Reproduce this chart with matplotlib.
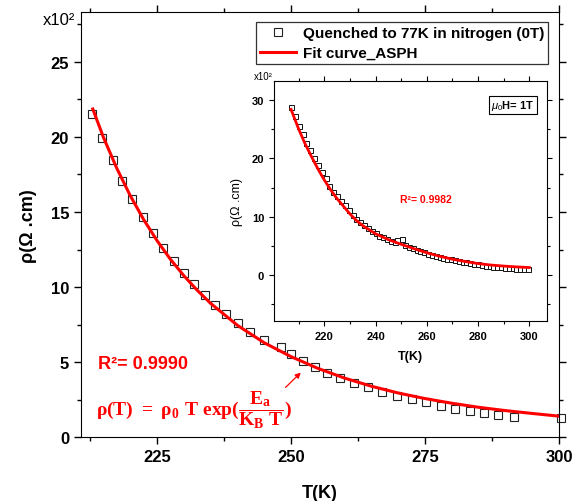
import numpy as np
import matplotlib.pyplot as plt
from matplotlib.ticker import MultipleLocator

plt.rcParams['font.family'] = ['Liberation Sans', 'DejaVu Sans']
plt.rcParams['mathtext.fontset'] = 'custom'
plt.rcParams['mathtext.rm'] = 'Liberation Sans'
plt.rcParams['mathtext.it'] = 'Liberation Sans:italic'
plt.rcParams['mathtext.bf'] = 'Liberation Serif:bold'

# main panel: quenched sample, 0T  (rho in units of 1e2 Ohm.cm)
T_main = [212.8, 214.7, 216.7, 218.5, 220.4, 222.3, 224.2, 226.1, 228.1, 230.0,
          231.9, 233.9, 235.8, 237.9, 240.1, 242.4, 244.9, 248.1, 250.0, 252.2,
          254.4, 256.7, 259.2, 261.7, 264.4, 267.0, 269.8, 272.5, 275.1, 277.9,
          280.6, 283.4, 286.1, 288.7, 291.6, 300.3]
rho_main = [21.53, 19.91, 18.45, 17.09, 15.85, 14.69, 13.62, 12.62, 11.73, 10.91,
            10.2, 9.5, 8.82, 8.2, 7.6, 7.05, 6.49, 6.02, 5.58, 5.09,
            4.69, 4.31, 3.95, 3.62, 3.35, 3.05, 2.75, 2.58, 2.33, 2.09,
            1.91, 1.75, 1.62, 1.49, 1.38, 1.31]

T_fit = [213, 215, 217.5, 220, 222.5, 225, 227.5, 230, 232.5, 235, 240, 245,
         250, 255, 260, 265, 270, 275, 280, 285, 290, 295, 300]
rho_fit = [21.85, 19.95, 17.89, 16.08, 14.49, 13.09, 11.85, 10.76, 9.79, 8.92,
           7.46, 6.3, 5.38, 4.6, 3.95, 3.41, 2.96, 2.59, 2.28, 2.01, 1.79, 1.6, 1.42]

# inset: 1T
T_in = [207.0, 208.5, 210.0, 211.5, 213.0, 214.5, 216.0, 217.5, 219.0, 220.5,
        222.0, 223.5, 225.0, 226.5, 228.0, 229.5, 231.0, 232.5, 234.0, 235.5,
        237.0, 238.5, 240.0, 241.5, 243.0, 244.5, 246.0, 247.5, 248.5, 250.3,
        251.5, 253.0, 254.5, 256.0, 257.5, 259.0, 260.5, 262.0, 263.5, 265.0,
        266.5, 268.0, 269.5, 271.0, 272.5, 274.0, 275.5, 277.0, 278.5, 280.0,
        281.5, 283.0, 284.5, 286.0, 287.5, 289.0, 290.5, 292.0, 293.5, 295.0,
        296.5, 298.0, 299.5]
rho_in = [28.8, 27.3, 25.6, 24.2, 22.7, 21.4, 20.1, 18.8, 17.6, 16.6,
          15.3, 14.3, 13.5, 12.7, 11.95, 11.1, 10.3, 9.65, 9.1, 8.6,
          8.1, 7.65, 7.2, 6.8, 6.5, 6.2, 5.9, 5.75, 6.1, 6.2,
          5.15, 4.85, 4.6, 4.35, 4.1, 3.9, 3.7, 3.5, 3.33, 3.15,
          3.0, 2.85, 2.7, 2.55, 2.43, 2.3, 2.2, 2.08, 1.97, 1.85,
          1.75, 1.65, 1.56, 1.47, 1.40, 1.33, 1.27, 1.21, 1.16, 1.12,
          1.08, 1.04, 1.0]

T_in_fit = [207, 210, 212.5, 215, 217.5, 220, 222.5, 225, 227.5, 230, 232.5, 235,
            240, 245, 250, 255, 260, 265, 270, 275, 280, 285, 290, 295, 300]
rho_in_fit = [28.4, 25.0, 22.5, 20.3, 18.2, 16.3, 14.6, 13.1, 11.8, 10.5, 9.4, 8.5,
              7.1, 6.1, 5.3, 4.55, 3.85, 3.25, 2.75, 2.35, 2.0, 1.75, 1.57, 1.43, 1.32]

fig = plt.figure(figsize=(5.73, 5.02), dpi=100)
ax = fig.add_axes([0.1414, 0.1265, 0.834, 0.8475])

ax.plot(T_main, rho_main, 's', ms=5.6, mfc='none', mec='#222222', mew=0.8,
        label='Quenched to 77K in nitrogen (0T)', clip_on=False, zorder=3)
ax.plot(T_fit, rho_fit, '-', color='red', lw=2.2, label='Fit curve_ASPH', zorder=4)

ax.set_xlim(210.8, 300)
ax.set_ylim(0, 28.3)
ax.xaxis.set_major_locator(MultipleLocator(25))
ax.xaxis.set_minor_locator(MultipleLocator(12.5))
ax.yaxis.set_major_locator(MultipleLocator(5))
ax.yaxis.set_minor_locator(MultipleLocator(2.5))
ax.tick_params(which='both', direction='out', top=True, right=True, width=1)
ax.tick_params(which='major', length=5, labelsize=12)
ax.tick_params(which='minor', length=3)
for lab in ax.get_xticklabels() + ax.get_yticklabels():
    lab.set_fontweight('bold')
ax.set_xlabel('T(K)', fontsize=13, fontweight='bold', labelpad=14)
ax.set_ylabel('ρ(Ω .cm)', fontsize=13, fontweight='bold', labelpad=10)
ax.text(-0.012, 1.0, 'x10²', transform=ax.transAxes, ha='right', va='top', fontsize=12)

leg = ax.legend(loc='upper left', bbox_to_anchor=(0.366, 0.976), fontsize=11,
                frameon=True, fancybox=False, borderpad=0.25, labelspacing=0.4,
                handlelength=2.4, handletextpad=0.4, borderaxespad=0)
leg.get_frame().set_edgecolor('black')
leg.get_frame().set_linewidth(0.9)
for t in leg.get_texts():
    t.set_fontweight('bold')

ax.text(213.9, 4.95, 'R²= 0.9990', color='red', fontsize=13, fontweight='bold',
        va='center')
ax.text(213.6, 1.85, r'$\mathbf{\rho(T)\ =\ \rho_0\ T\ exp(\dfrac{E_a}{K_B\ T})}$',
        color='red', fontsize=14, va='center')
ax.annotate('', xy=(252.2, 4.45), xytext=(248.6, 3.2),
            arrowprops=dict(arrowstyle='-|>', color='red', lw=0.9,
                            mutation_scale=8))

# inset
ins = fig.add_axes([0.478, 0.359, 0.476, 0.478])
ins.plot(T_in, rho_in, 's', ms=3.6, mfc='white', mec='#111111', mew=0.7, zorder=3)
ins.plot(T_in_fit, rho_in_fit, '-', color='red', lw=2.0, zorder=4)
ins.set_xlim(200.3, 306.8)
ins.set_ylim(-7.8, 33.3)
ins.xaxis.set_major_locator(MultipleLocator(20))
ins.xaxis.set_minor_locator(MultipleLocator(10))
ins.yaxis.set_major_locator(MultipleLocator(10))
ins.yaxis.set_minor_locator(MultipleLocator(5))
ins.tick_params(which='both', direction='out', top=True, right=True, width=0.8)
ins.tick_params(which='major', length=3.5, labelsize=8)
ins.tick_params(which='minor', length=2.5)
for lab in ins.get_xticklabels() + ins.get_yticklabels():
    lab.set_fontweight('bold')
ins.set_xlabel('T(K)', fontsize=9, fontweight='bold', labelpad=7)
ins.set_ylabel('ρ(Ω .cm)', fontsize=9, labelpad=6)
ins.text(-0.005, 1.0, 'x10²', transform=ins.transAxes, ha='right', va='bottom', fontsize=7)
ins.text(249.5, 13.0, 'R²= 0.9982', color='red', fontsize=7.5, fontweight='bold',
         va='center')
ins.text(0.955, 0.9, r'$\mu_0$H= 1T', transform=ins.transAxes, ha='right', va='center',
         fontsize=8, fontweight='bold',
         bbox=dict(boxstyle='square,pad=0.2', fc='white', ec='black', lw=0.8))

fig.savefig('out.png', dpi=100)
